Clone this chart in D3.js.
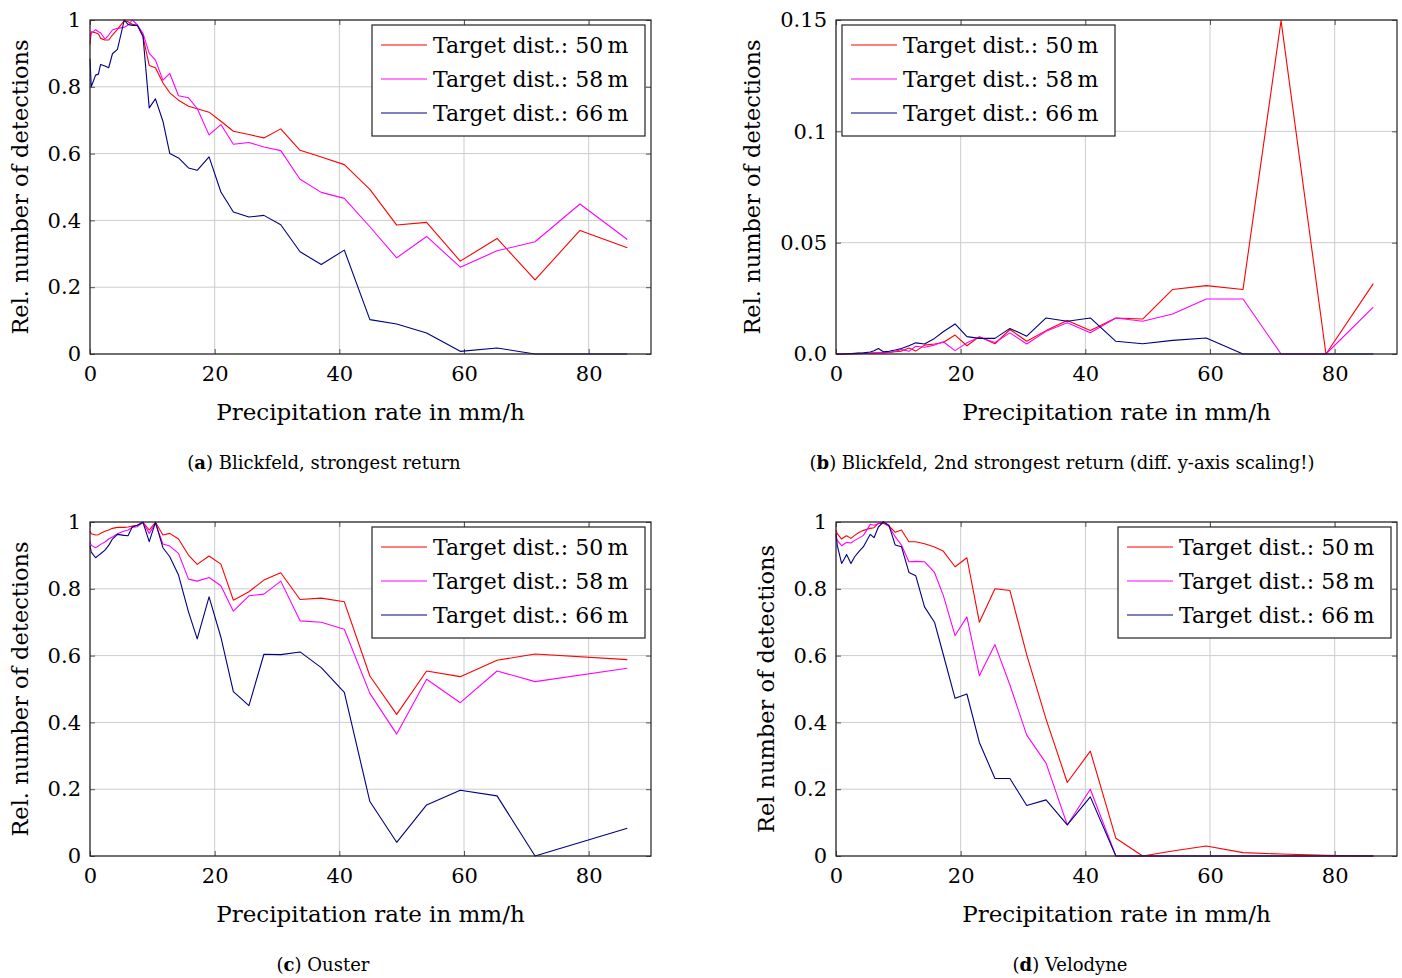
<!DOCTYPE html>
<html>
<head>
<meta charset="utf-8">
<script src="https://cdn.jsdelivr.net/npm/d3@7/dist/d3.min.js"></script>
<style>
  body { margin: 0; background: #fff; }
  text { font-family: "DejaVu Serif", serif; fill: #000; }
</style>
</head>
<body>
<svg width="1402" height="978"></svg>
<script>
// precipitation bins (mm/h), shared by all four measurements
var rain = [0, 0.2, 0.9, 1.35, 1.7, 2.4, 3.0, 3.6, 4.4, 5.5, 6.1, 6.8, 7.6, 8.5, 9.5, 10.5, 11.7, 12.8, 14.2,
            15.8, 17.2, 19.1, 21.0, 23.0, 25.5, 27.9, 30.6, 33.7, 37.1, 40.8, 44.9, 49.2, 54.0, 59.4, 65.3, 71.4, 78.6, 86.2];

var names = ["Target dist.: 50\u2009m", "Target dist.: 58\u2009m", "Target dist.: 66\u2009m"];
var colors = ["#ff0000", "#ff00ff", "#000080"];

// (a) Blickfeld, strongest return
var a50 = [0.927, 0.965, 0.962, 0.958, 0.945, 0.94, 0.94, 0.955, 0.972, 0.998, 0.995, 0.987, 0.984, 0.95, 0.864, 0.857, 0.812, 0.782, 0.76,
           0.742, 0.734, 0.724, 0.697, 0.667, 0.657, 0.647, 0.674, 0.61, 0.59, 0.567, 0.493, 0.386, 0.394, 0.278, 0.346, 0.222, 0.37, 0.318];
var a58 = [0.952, 0.96, 0.971, 0.965, 0.962, 0.943, 0.955, 0.97, 0.975, 0.978, 0.985, 1.0, 0.985, 0.96, 0.9, 0.88, 0.82, 0.84, 0.773,
           0.767, 0.735, 0.656, 0.687, 0.628, 0.633, 0.62, 0.609, 0.523, 0.484, 0.466, 0.381, 0.288, 0.352, 0.26, 0.309, 0.336, 0.449, 0.343];
var a66 = [0.884, 0.80, 0.835, 0.838, 0.867, 0.862, 0.857, 0.899, 0.912, 1.0, 0.987, 0.984, 0.984, 0.952, 0.737, 0.764, 0.697, 0.60, 0.587,
           0.557, 0.55, 0.59, 0.485, 0.425, 0.41, 0.415, 0.387, 0.306, 0.268, 0.311, 0.103, 0.09, 0.063, 0.008, 0.018, 0, 0, 0];

// (b) Blickfeld, 2nd strongest return
var b50 = [0, 0, 0, 0, 0, 0, 0.0002, 0.0003, 0.0003, 0.0004, 0.0005, 0.0005, 0.0006, 0.0007, 0.001, 0.0013, 0.0027, 0.0013, 0.004,
           0.0045, 0.0052, 0.0085, 0.0037, 0.0078, 0.0046, 0.011, 0.0057, 0.0105, 0.015, 0.0106, 0.0162, 0.0157, 0.029, 0.0307, 0.029, 0.1497, 0, 0.0316];
var b58 = [0, 0, 0, 0, 0, 0, 0, 0.0001, 0.0002, 0.0003, 0.0004, 0.0005, 0.0005, 0.0007, 0.0012, 0.002, 0.0012, 0.0035, 0.003,
           0.004, 0.0055, 0.0015, 0.005, 0.0075, 0.0052, 0.0095, 0.0045, 0.0102, 0.014, 0.0095, 0.0162, 0.0147, 0.018, 0.0247, 0.0247, 0, 0, 0.0211];
var b66 = [0, 0, 0, 0, 0.0001, 0.0002, 0.0003, 0.0004, 0.0005, 0.0009, 0.0015, 0.0025, 0.001, 0.0012, 0.0018, 0.0025, 0.0037, 0.005, 0.0045,
           0.007, 0.01, 0.0135, 0.0078, 0.007, 0.007, 0.0115, 0.008, 0.0162, 0.0147, 0.0162, 0.0057, 0.0046, 0.0061, 0.0072, 0, 0, 0, 0];

// (c) Ouster  (null = no sample in that bin)
var c50 = [0.973, 0.965, 0.961, 0.962, 0.966, 0.972, 0.976, 0.981, 0.984, 0.984, 0.985, 0.988, 0.99, 0.999, 0.976, 0.999, 0.961, 0.966, 0.949,
           0.901, 0.873, 0.898, 0.874, 0.766, 0.791, 0.826, 0.848, 0.768, 0.772, 0.761, 0.539, 0.424, 0.554, 0.537, 0.586, 0.605, null, 0.588];
var c58 = [0.943, 0.93, 0.923, 0.928, 0.933, 0.94, 0.949, 0.955, 0.965, 0.973, 0.976, 0.984, 0.986, 0.999, 0.966, 0.996, 0.934, 0.928, 0.906,
           0.829, 0.823, 0.834, 0.809, 0.733, 0.779, 0.784, 0.823, 0.704, 0.70, 0.679, 0.487, 0.365, 0.529, 0.459, 0.554, 0.522, null, 0.562];
var c66 = [0.929, 0.91, 0.893, 0.9, 0.905, 0.916, 0.93, 0.949, 0.963, 0.96, 0.959, 0.986, 0.99, 0.999, 0.941, 0.999, 0.923, 0.896, 0.841,
           0.731, 0.65, 0.776, 0.655, 0.492, 0.45, 0.604, 0.603, 0.611, 0.564, 0.49, 0.163, 0.041, 0.153, 0.197, 0.18, 0, null, 0.083];

// (d) Velodyne
var d50 = [0.976, 0.965, 0.949, 0.955, 0.959, 0.951, 0.96, 0.968, 0.975, 0.981, 0.983, 0.996, 0.996, 0.988, 0.969, 0.976, 0.941, 0.941, 0.935,
           0.925, 0.913, 0.866, 0.893, 0.7, 0.8, 0.795, 0.602, 0.41, 0.22, 0.314, 0.053, 0.0, 0.015, 0.03, 0.01, 0.006, 0.002, 0];
var d58 = [0.959, 0.945, 0.929, 0.935, 0.939, 0.937, 0.945, 0.951, 0.96, 0.993, 0.99, 0.995, 1.0, 0.986, 0.956, 0.931, 0.881, 0.882, 0.881,
           0.849, 0.781, 0.66, 0.716, 0.54, 0.633, 0.512, 0.362, 0.278, 0.093, 0.2, 0, 0, 0, 0, 0, 0, 0, 0];
var d66 = [0.966, 0.93, 0.876, 0.89, 0.903, 0.876, 0.896, 0.91, 0.926, 0.963, 0.953, 0.985, 1.0, 0.99, 0.931, 0.926, 0.849, 0.839, 0.746,
           0.7, 0.604, 0.472, 0.485, 0.34, 0.232, 0.232, 0.151, 0.168, 0.093, 0.177, 0, 0, 0, 0, 0, 0, 0, 0];

var xTicks = [0, 20, 40, 60, 80];
var yTicksRel = [0, 0.2, 0.4, 0.6, 0.8, 1];
var yTicksSecond = [0, 0.05, 0.1, 0.15];
var yLabelsSecond = ["0.0", "0.05", "0.1", "0.15"];

var svg = d3.select("svg");
var W = 561, H = 334;

var panels = [
  {left: 90,  top: 20,  series: [a50, a58, a66], yMax: 1,    ticks: yTicksRel, labels: null,
   legendX: 372, ylab: "Rel. number of detections", ylabX: 20, cap: "a", capText: " Blickfeld, strongest return", capX: 324, capY: 469},
  {left: 836, top: 20,  series: [b50, b58, b66], yMax: 0.15, ticks: yTicksSecond, labels: yLabelsSecond,
   legendX: 842, ylab: "Rel. number of detections", ylabX: 752, cap: "b", capText: " Blickfeld, 2nd strongest return (diff. y-axis scaling!)", capX: 1062, capY: 469},
  {left: 90,  top: 522, series: [c50, c58, c66], yMax: 1,    ticks: yTicksRel, labels: null,
   legendX: 372, ylab: "Rel. number of detections", ylabX: 20, cap: "c", capText: " Ouster", capX: 323, capY: 971},
  {left: 836, top: 522, series: [d50, d58, d66], yMax: 1,    ticks: yTicksRel, labels: null,
   legendX: 1118, ylab: "Rel number of detections", ylabX: 766, cap: "d", capText: " Velodyne", capX: 1070, capY: 971}
];

panels.forEach(function(p) {
  var g = svg.append("g").attr("transform", "translate(" + p.left + "," + p.top + ")");
  var x = d3.scaleLinear().domain([0, 90]).range([0, W]);
  var y = d3.scaleLinear().domain([0, p.yMax]).range([H, 0]);

  // grid
  g.append("g").selectAll("line").data(xTicks).enter().append("line")
    .attr("x1", x).attr("x2", x).attr("y1", 0).attr("y2", H)
    .attr("stroke", "#cccccc").attr("stroke-width", 1);
  g.append("g").selectAll("line").data(p.ticks).enter().append("line")
    .attr("x1", 0).attr("x2", W).attr("y1", y).attr("y2", y)
    .attr("stroke", "#cccccc").attr("stroke-width", 1);

  // axes: inward ticks on all four sides, labels left/bottom
  var fmtY = function(d, i) { return p.labels ? p.labels[i] : d3.format("")(d); };
  g.append("g").attr("transform", "translate(0," + H + ")")
    .call(d3.axisBottom(x).tickValues(xTicks).tickSizeInner(-5).tickSizeOuter(0).tickPadding(12));
  g.append("g")
    .call(d3.axisLeft(y).tickValues(p.ticks).tickFormat(fmtY).tickSizeInner(-5).tickSizeOuter(0).tickPadding(9));
  g.append("g").attr("transform", "translate(" + W + ",0)")
    .call(d3.axisRight(y).tickValues(p.ticks).tickFormat("").tickSizeInner(-5).tickSizeOuter(0));
  g.append("g")
    .call(d3.axisTop(x).tickValues(xTicks).tickFormat("").tickSizeInner(-5).tickSizeOuter(0));
  g.selectAll(".domain").remove();
  g.selectAll(".tick line").attr("stroke", "#555");
  g.selectAll(".tick text").style("font-family", "DejaVu Serif, serif").style("font-size", "21px").attr("fill", "#000");

  // series
  var line = d3.line().x(function(d) { return x(d[0]); }).y(function(d) { return y(d[1]); });
  p.series.forEach(function(s, k) {
    var pts = rain.map(function(r, i) { return [r, s[i]]; }).filter(function(d) { return d[1] !== null; });
    g.append("path").datum(pts).attr("d", line)
      .attr("fill", "none").attr("stroke", colors[k]).attr("stroke-width", 1.1).attr("stroke-linejoin", "round");
  });

  // frame
  g.append("rect").attr("width", W).attr("height", H)
    .attr("fill", "none").attr("stroke", "#222").attr("stroke-width", 1.2);

  // legend
  var lg = g.append("g").attr("transform", "translate(" + (p.legendX - p.left) + ",5)");
  lg.append("rect").attr("width", 273).attr("height", 111)
    .attr("fill", "#fff").attr("stroke", "#222").attr("stroke-width", 1.2);
  names.forEach(function(n, k) {
    var yy = 20 + k * 34;
    lg.append("line").attr("x1", 9).attr("x2", 55).attr("y1", yy).attr("y2", yy)
      .attr("stroke", colors[k]).attr("stroke-width", 1.1);
    lg.append("text").attr("x", 61).attr("y", yy).attr("dy", "0.36em")
      .style("font-size", "22px").text(n);
  });

  // axis titles
  svg.append("text").attr("x", p.left + W / 2).attr("y", p.top + H + 66)
    .attr("text-anchor", "middle").style("font-size", "23px").text("Precipitation rate in mm/h");
  svg.append("text").attr("transform", "translate(" + p.ylabX + "," + (p.top + H / 2) + ") rotate(-90)")
    .attr("text-anchor", "middle").attr("dy", "0.35em").style("font-size", "22.5px").text(p.ylab);

  // caption
  var cap = svg.append("text").attr("x", p.capX).attr("y", p.capY)
    .attr("text-anchor", "middle").style("font-size", "18px");
  cap.append("tspan").text("(");
  cap.append("tspan").attr("font-weight", "bold").text(p.cap);
  cap.append("tspan").text(")" + p.capText);
});
</script>
</body>
</html>
